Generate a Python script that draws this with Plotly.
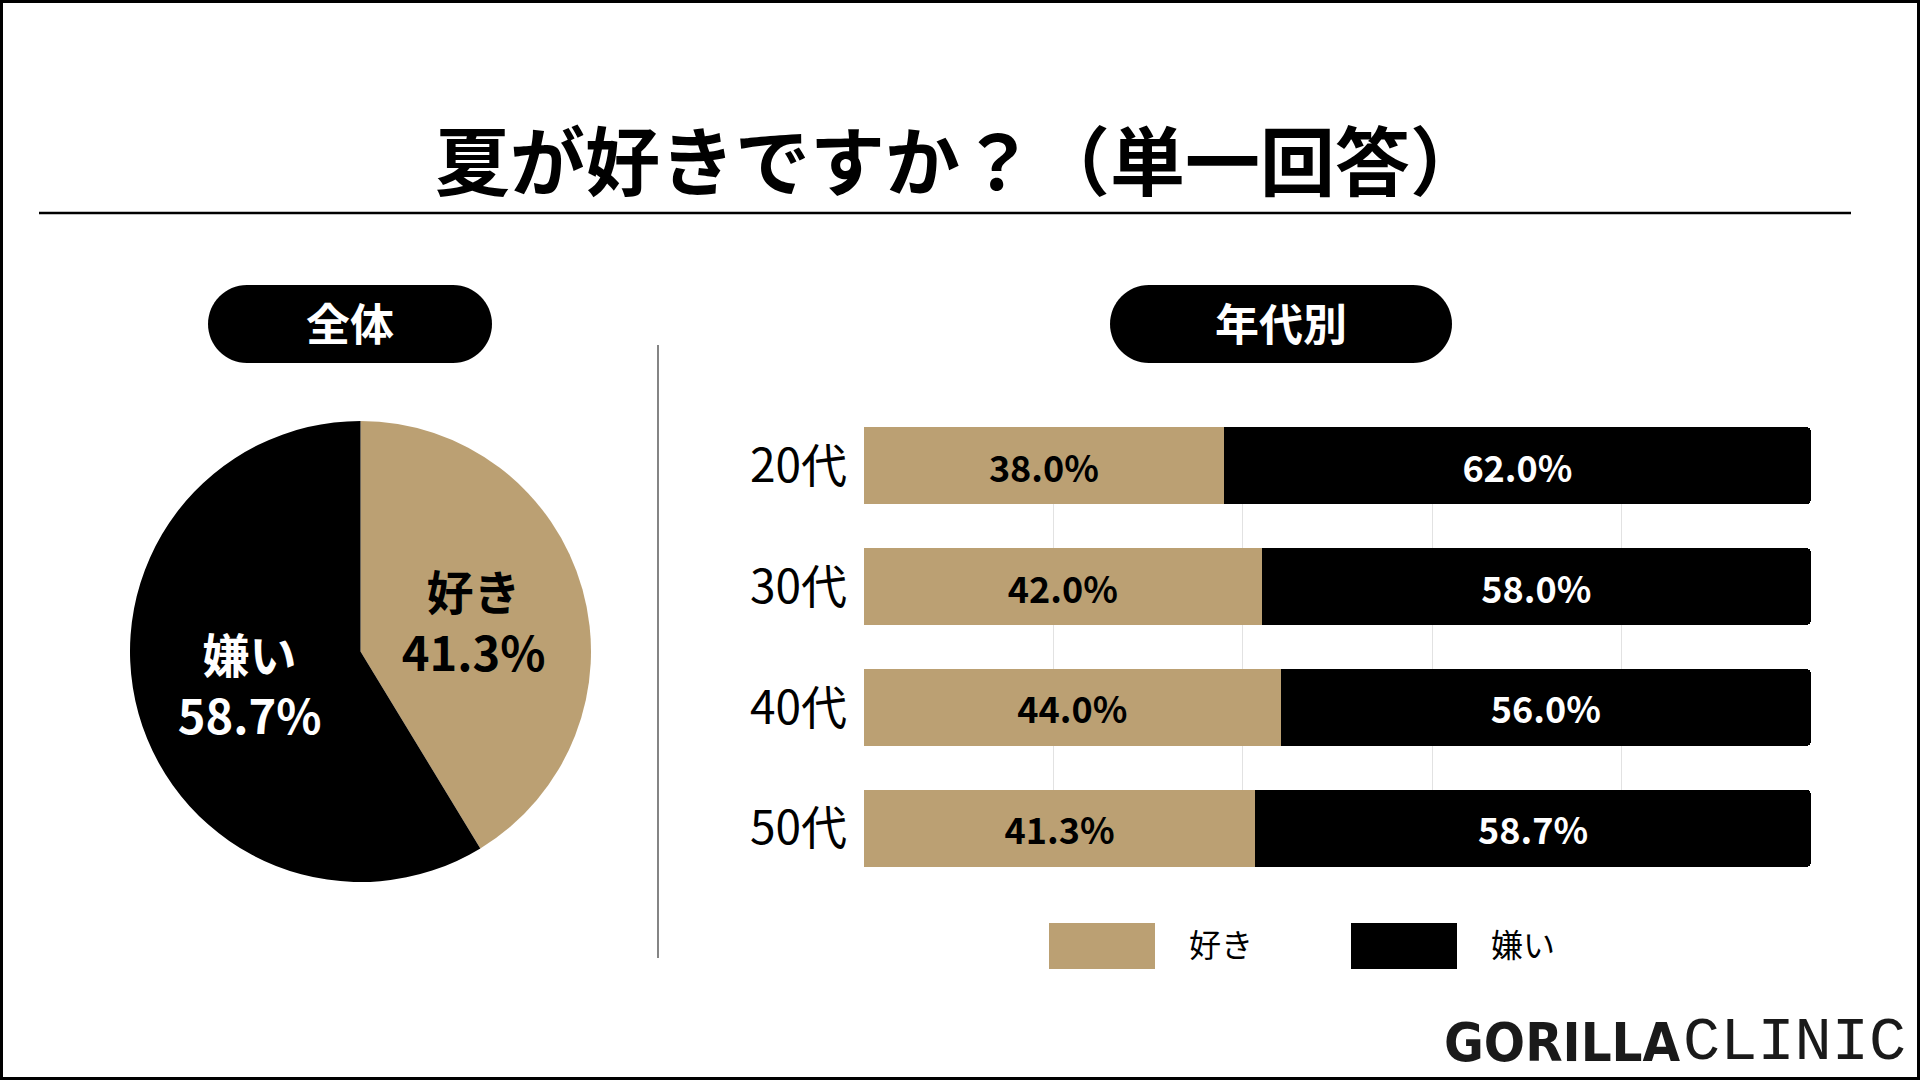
import plotly.graph_objects as go

W, H = 1920, 1080

overall_labels = ["好き", "嫌い"]
overall_values = [41.3, 58.7]

ages = ["20代", "30代", "40代", "50代"]
like_pct = [38.0, 42.0, 44.0, 41.3]
dislike_pct = [62.0, 58.0, 56.0, 58.7]

series_names = ["好き", "嫌い"]
TAN = "#BBA073"
BLACK = "#000000"
JP = "Noto Sans CJK JP"
BAR_W = 0.64


def px(x):
    return x / W


def py(y):
    return 1 - y / H


def pill(x0, y0, x1, y1):
    # rounded-end box in pixel coordinates -> paper path
    r = (y1 - y0) / 2
    k = 0.5523 * r
    pts = [
        f"M{px(x0 + r)},{py(y0)}",
        f"L{px(x1 - r)},{py(y0)}",
        f"C{px(x1 - r + k)},{py(y0)} {px(x1)},{py(y0 + r - k)} {px(x1)},{py(y0 + r)}",
        f"C{px(x1)},{py(y0 + r + k)} {px(x1 - r + k)},{py(y1)} {px(x1 - r)},{py(y1)}",
        f"L{px(x0 + r)},{py(y1)}",
        f"C{px(x0 + r - k)},{py(y1)} {px(x0)},{py(y0 + r + k)} {px(x0)},{py(y0 + r)}",
        f"C{px(x0)},{py(y0 + r - k)} {px(x0 + r - k)},{py(y0)} {px(x0 + r)},{py(y0)}",
        "Z",
    ]
    return dict(type="path", xref="paper", yref="paper", path=" ".join(pts),
                fillcolor=BLACK, line=dict(width=0))


fig = go.Figure()

fig.add_trace(go.Pie(
    labels=overall_labels, values=overall_values,
    sort=False, direction="clockwise", rotation=0,
    marker=dict(colors=[TAN, BLACK], line=dict(width=0)),
    texttemplate="%{label}<br>%{value:.1f}%",
    textposition="inside", insidetextorientation="horizontal",
    textfont=dict(family=JP, size=47, color=[BLACK, "#ffffff"], weight="bold"),
    domain=dict(x=[px(129), px(592)], y=[py(882), py(421)]),
    showlegend=False, hoverinfo="label+percent",
))

fig.add_trace(go.Bar(
    y=ages, x=like_pct, name=series_names[0], orientation="h", width=BAR_W,
    marker=dict(color=TAN, line=dict(width=0)),
    texttemplate="%{x:.1f}%", textposition="inside", insidetextanchor="middle",
    textangle=0, textfont=dict(family=JP, size=36, color=BLACK, weight="bold"),
    showlegend=False,
))
fig.add_trace(go.Bar(
    y=ages, x=dislike_pct, name=series_names[1], orientation="h", width=BAR_W,
    marker=dict(color=BLACK, line=dict(width=0)),
    texttemplate="%{x:.1f}%", textposition="inside", insidetextanchor="middle",
    textangle=0, textfont=dict(family=JP, size=36, color="#ffffff", weight="bold"),
    showlegend=False,
))

shapes = [
    # outer frame
    dict(type="rect", xref="paper", yref="paper", x0=px(1.5), x1=px(W - 1.5),
         y0=py(H - 1.5), y1=py(1.5), line=dict(color=BLACK, width=3)),
    # title rule
    dict(type="line", xref="paper", yref="paper", x0=px(39), x1=px(1851),
         y0=py(213), y1=py(213), line=dict(color=BLACK, width=2.5)),
    # divider
    dict(type="line", xref="paper", yref="paper", x0=px(658), x1=px(658),
         y0=py(345), y1=py(958), line=dict(color="#333333", width=1.2)),
    pill(208, 285, 492, 363),
    pill(1110, 285, 1452, 363),
]

annotations = [
    dict(text="夏が好きですか？（単一回答）", x=px(960), y=py(157), xref="paper", yref="paper",
         showarrow=False, xanchor="center", yanchor="middle",
         font=dict(family=JP, size=75, color=BLACK, weight="bold")),
    dict(text="全体", x=px(350), y=py(322), xref="paper", yref="paper",
         showarrow=False, xanchor="center", yanchor="middle",
         font=dict(family=JP, size=44, color="#ffffff", weight="bold")),
    dict(text="年代別", x=px(1281), y=py(322), xref="paper", yref="paper",
         showarrow=False, xanchor="center", yanchor="middle",
         font=dict(family=JP, size=44, color="#ffffff", weight="bold")),
    dict(text="GORILLA", x=px(1683), y=py(1042), xref="paper", yref="paper",
         showarrow=False, xanchor="right", yanchor="middle",
         font=dict(family="Liberation Sans Narrow, DejaVu Sans Condensed, sans-serif",
                   size=54, color="#1a1a1a", weight=900)),
    dict(text="CLINIC", x=px(1681), y=py(1042), xref="paper", yref="paper",
         showarrow=False, xanchor="left", yanchor="middle",
         font=dict(family="Liberation Mono, DejaVu Sans Mono, monospace",
                   size=62, color="#1a1a1a", weight="normal")),
]

# legend swatches
legend_x = [1049, 1351]
for name, color, lx in zip(series_names, [TAN, BLACK], legend_x):
    shapes.append(dict(type="rect", xref="paper", yref="paper",
                       x0=px(lx), x1=px(lx + 106), y0=py(969), y1=py(923),
                       fillcolor=color, line=dict(width=0)))
    annotations.append(dict(text=name, x=px(lx + 138), y=py(943), xref="paper", yref="paper",
                            showarrow=False, xanchor="left", yanchor="middle",
                            font=dict(family=JP, size=32, color=BLACK)))

half = BAR_W / 2
fig.update_layout(
    width=W, height=H, autosize=False,
    margin=dict(l=0, r=0, t=0, b=0),
    paper_bgcolor="#ffffff", plot_bgcolor="#ffffff",
    barmode="stack", barcornerradius=5,
    shapes=shapes, annotations=annotations,
    xaxis=dict(domain=[px(864), px(1811)], range=[0, 100], dtick=20,
               showgrid=True, gridcolor="#e2e2e2", gridwidth=1,
               showticklabels=False, zeroline=False, showline=False, fixedrange=True),
    yaxis=dict(domain=[py(867), py(427)], range=[len(ages) - 1 + half, -half],
               showgrid=False, zeroline=False, showline=False, ticks="",
               ticklabelstandoff=16,
               tickfont=dict(family=JP, size=46, color=BLACK)),
    font=dict(family=JP),
)

fig.write_html(
    "out.html",
    config={"displayModeBar": False},
    post_script="document.body.style.margin='0';document.body.style.overflow='hidden';",
)
